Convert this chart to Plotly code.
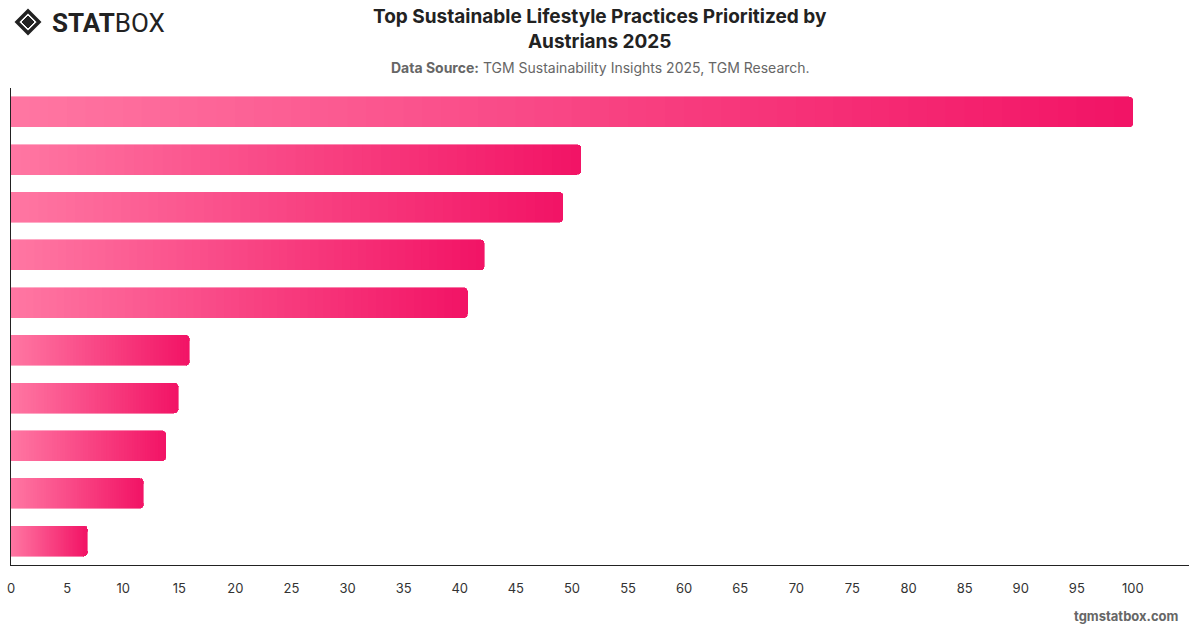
import plotly.graph_objects as go

categories = [
    "Recycling household waste",
    "Reducing food waste",
    "Saving energy at home",
    "Buying local products",
    "Using reusable bags",
    "Using public transport",
    "Reducing water usage",
    "Buying second-hand items",
    "Eating less meat",
    "Using renewable energy",
]
values = [100, 50.8, 49.2, 42.2, 40.7, 15.9, 14.9, 13.8, 11.8, 6.8]

x_ticks = list(range(0, 101, 5))

color_start = (255, 118, 162)
color_end = (242, 20, 102)
N_SEG = 60


def lerp(a, b, t):
    return tuple(round(a[i] + (b[i] - a[i]) * t) for i in range(3))


fig = go.Figure()
for k in range(N_SEG):
    t = k / (N_SEG - 1)
    c = "rgb(%d,%d,%d)" % lerp(color_start, color_end, t)
    fig.add_trace(go.Bar(
        y=categories,
        x=[v / N_SEG for v in values],
        orientation="h",
        marker=dict(color=c, line=dict(color=c, width=0.6)),
        showlegend=False,
        hoverinfo="skip",
    ))

fig.update_layout(
    width=1200, height=628,
    margin=dict(l=11, r=11, t=88, b=63, autoexpand=False),
    plot_bgcolor="white", paper_bgcolor="white",
    barmode="stack", bargap=0.37, barcornerradius=4,
    font=dict(family="Inter, Roboto, sans-serif", color="#333"),
    xaxis=dict(range=[0, 105], tickvals=x_ticks, showgrid=False, zeroline=False,
               showline=True, linecolor="#222", linewidth=1, automargin=False,
               tickfont=dict(size=13, color="#333"), ticklabelstandoff=11),
    yaxis=dict(categoryorder="array", categoryarray=categories, autorange="reversed",
               showticklabels=False, showgrid=False, zeroline=False, automargin=False,
               showline=True, linecolor="#222", linewidth=1),
)

fig.add_annotation(text="<b>Top Sustainable Lifestyle Practices Prioritized by<br>Austrians 2025</b>",
                   xref="paper", yref="paper", x=0.5, y=1, yshift=59, xanchor="center", yanchor="middle",
                   showarrow=False, font=dict(size=19, color="#222", family="Inter, sans-serif"),
                   align="center")
fig.add_annotation(text="<b>Data Source:</b> TGM Sustainability Insights 2025, TGM Research.",
                   xref="paper", yref="paper", x=0.5, y=1, yshift=21, xanchor="center", yanchor="middle",
                   showarrow=False, font=dict(size=14, color="#666", family="Inter, sans-serif"))
fig.add_annotation(text="<b>tgmstatbox.com</b>",
                   xref="paper", yref="paper", x=1, xshift=-8, y=0, yshift=-51, xanchor="right", yanchor="middle",
                   showarrow=False, font=dict(size=13, color="#666", family="Inter, sans-serif"))

# logo
fig.add_annotation(text="<b>STAT</b>BOX", xref="paper", yref="paper", x=0, xshift=39, y=1, yshift=65,
                   xanchor="left", yanchor="middle", showarrow=False,
                   font=dict(size=26, color="#222", family="Roboto, sans-serif"))
fig.add_shape(type="path", xref="paper", yref="paper", xsizemode="pixel", ysizemode="pixel",
              xanchor=0, yanchor=1,
              path="M 6,66 L 17,77 L 28,66 L 17,55 Z",
              line=dict(color="#222", width=3.5), fillcolor="white")
fig.add_shape(type="path", xref="paper", yref="paper", xsizemode="pixel", ysizemode="pixel",
              xanchor=0, yanchor=1,
              path="M 11,66 L 17,72 L 23,66 L 17,60 Z",
              line=dict(color="#222", width=1), fillcolor="#222")

fig.write_html("out.html")
